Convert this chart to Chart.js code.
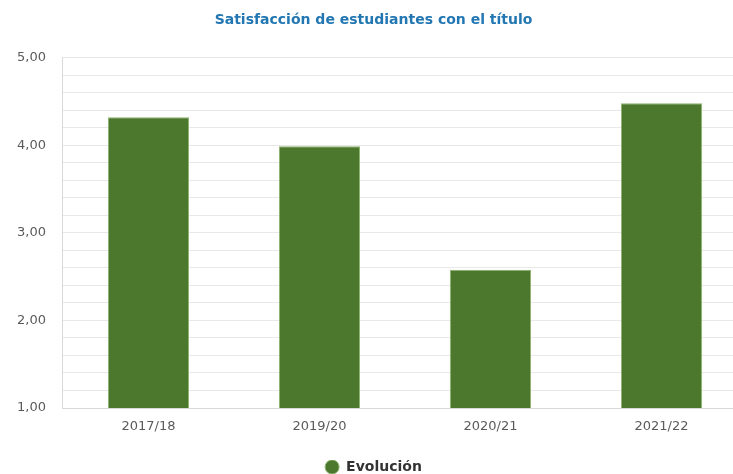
<!DOCTYPE html>
<html>
<head>
<meta charset="utf-8">
<script src="https://cdn.jsdelivr.net/npm/chart.js@4"></script>
<style>
  html, body { margin: 0; padding: 0; background: #fff; overflow: hidden; }
  #wrap { position: absolute; left: 0; top: 0; width: 748px; height: 484px; }
</style>
</head>
<body>
<div id="wrap"><canvas id="chart" width="748" height="484"></canvas></div>
<script>
// ===== Dados =====
const cursos = ['2017/18', '2019/20', '2020/21', '2021/22'];
const satisfacao = [4.32, 3.99, 2.58, 4.48];
const titulo = 'Satisfacción de estudiantes con el título';
const serie = 'Evolución';

const fmtNum = v => v.toFixed(2).replace('.', ',');
const fonte = 'DejaVu Sans';

new Chart(document.getElementById('chart'), {
  type: 'bar',
  data: {
    labels: cursos,
    datasets: [{
      label: serie,
      data: satisfacao,
      backgroundColor: '#4b782c',
      borderColor: '#8db36e',
      borderWidth: 1,
      categoryPercentage: 1,
      barPercentage: 0.475
    }]
  },
  options: {
    responsive: false,
    animation: false,
    layout: { padding: { left: 0, right: 1, top: 4, bottom: 0 } },
    plugins: {
      title: {
        display: true,
        text: titulo,
        color: '#2277b3',
        font: { family: fonte, size: 14, weight: 'bold' },
        padding: { top: 8, bottom: 29 }
      },
      legend: {
        position: 'bottom',
        labels: {
          usePointStyle: true,
          pointStyle: 'circle',
          pointStyleWidth: 14,
          boxWidth: 14,
          boxHeight: 10,
          color: '#333',
          font: { family: fonte, size: 14, weight: 'bold' },
          padding: 0
        }
      },
      tooltip: { enabled: false }
    },
    scales: {
      x: {
        grid: { display: false, drawTicks: false },
        border: { color: '#d8d8d8' },
        ticks: { color: '#5a5a5a', font: { family: fonte, size: 13 }, padding: 11 },
        afterFit: axis => { axis.height = 52; }
      },
      y: {
        min: 1,
        max: 5,
        grid: { color: '#e8e8e8', drawTicks: false },
        border: { color: '#d8d8d8' },
        ticks: {
          stepSize: 0.2,
          autoSkip: false,
          color: '#5a5a5a',
          font: { family: fonte, size: 13 },
          padding: 17,
          callback: v => Math.abs(v - Math.round(v)) < 1e-6 ? fmtNum(v) : ''
        }
      }
    }
  }
});
</script>
</body>
</html>
